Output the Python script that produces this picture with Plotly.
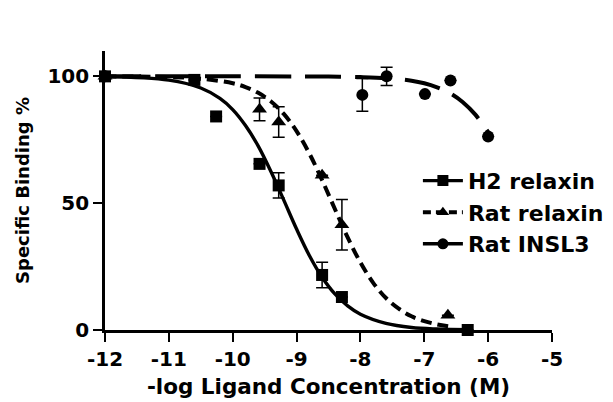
import plotly.graph_objects as go

# ---- data ----
h2_x = [-12, -10.6, -10.26, -9.58, -9.28, -8.6, -8.29, -6.32]
h2_y = [100, 98.6, 84.2, 65.5, 57.0, 21.7, 13.0, 0.0]
h2_err = [None, None, None, None, 5.0, 5.0, None, None]

rr_x = [-12, -9.58, -9.28, -8.6, -8.29, -6.63]
rr_y = [100, 87.0, 82.0, 61.0, 41.5, 5.8]
rr_err = [None, 4.5, 6.0, None, 10.0, None]

insl3_x = [-12, -7.97, -7.59, -6.99, -6.59, -6.0]
insl3_y = [100, 92.7, 100.0, 93.0, 98.4, 76.3]
insl3_err = [None, 6.5, 3.6, None, None, None]

# fitted curves
h2_fit_x = [-12, -11, -10.5, -10.2, -10, -9.8, -9.6, -9.4, -9.2, -9.0, -8.8, -8.6,
            -8.4, -8.2, -8.0, -7.6, -7.2, -6.8, -6.3]
h2_fit_y = [99.9, 98.5, 95.4, 91.3, 86.9, 80.6, 72.5, 62.4, 51.2, 39.8, 29.4, 20.8,
            14.2, 9.5, 6.2, 2.6, 1.0, 0.4, 0.1]

rr_fit_x = [-12, -11, -10.5, -10, -9.8, -9.6, -9.4, -9.2, -9.0, -8.8, -8.6, -8.4,
            -8.2, -8.0, -7.8, -7.6, -7.4, -7.2, -7.0, -6.8, -6.6]
rr_fit_y = [100, 99.7, 99.1, 97.3, 95.8, 93.5, 90.1, 85.2, 78.4, 69.6, 59.1, 47.7,
            36.5, 26.6, 18.6, 12.6, 8.4, 5.4, 3.5, 2.2, 1.4]

insl3_fit_x = [-12, -11, -10, -9, -8.5, -8, -7.6, -7.2, -7.0, -6.8, -6.6, -6.4, -6.2, -6.0]
insl3_fit_y = [100, 100, 100, 99.97, 99.9, 99.7, 99.3, 98.3, 97.3, 95.7, 93.4, 89.9, 84.9, 78.0]

x_ticks = [-12, -11, -10, -9, -8, -7, -6, -5]
x_ticktext = ["-12", "-11", "-10", "-9", "-8", "-7", "-6", "-5"]
y_ticks = [0, 50, 100]
y_ticktext = ["0", "50", "100"]

names = ["H2 relaxin", "Rat relaxin", "Rat INSL3"]

FONT = "DejaVu Sans, Liberation Sans, Arial, sans-serif"
BLACK = "#000000"

fig = go.Figure()

# fitted curves (no legend)
fig.add_trace(go.Scatter(x=h2_fit_x, y=h2_fit_y, mode="lines", line_shape="spline",
                         line=dict(color=BLACK, width=3.4), showlegend=False,
                         hoverinfo="skip"))
fig.add_trace(go.Scatter(x=rr_fit_x, y=rr_fit_y, mode="lines", line_shape="spline",
                         line=dict(color=BLACK, width=4, dash="11px,6px"),
                         showlegend=False, hoverinfo="skip"))
fig.add_trace(go.Scatter(x=insl3_fit_x, y=insl3_fit_y, mode="lines", line_shape="spline",
                         line=dict(color=BLACK, width=4, dash="36px,14px"),
                         showlegend=False, hoverinfo="skip"))


def err(vals):
    return dict(type="data", array=vals, symmetric=True, color=BLACK,
                thickness=1.5, width=6, visible=True)


# data points
fig.add_trace(go.Scatter(x=h2_x, y=h2_y, mode="markers", name=names[0], showlegend=False,
                         marker=dict(symbol="square", size=12, color=BLACK),
                         error_y=err(h2_err), cliponaxis=False))
fig.add_trace(go.Scatter(x=rr_x, y=rr_y, mode="markers", name=names[1], showlegend=False,
                         marker=dict(symbol="triangle-up", size=13, color=BLACK),
                         error_y=err(rr_err), cliponaxis=False))
fig.add_trace(go.Scatter(x=insl3_x, y=insl3_y, mode="markers", name=names[2], showlegend=False,
                         marker=dict(symbol="circle", size=12, color=BLACK),
                         error_y=err(insl3_err), cliponaxis=False))

# legend entries: line + marker
fig.add_trace(go.Scatter(x=[None], y=[None], mode="lines+markers", name=names[0],
                         line=dict(color=BLACK, width=3.4),
                         marker=dict(symbol="square", size=11, color=BLACK)))
fig.add_trace(go.Scatter(x=[None], y=[None], mode="lines+markers", name=names[1],
                         line=dict(color=BLACK, width=4, dash="8px,5px"),
                         marker=dict(symbol="triangle-up", size=11, color=BLACK)))
fig.add_trace(go.Scatter(x=[None], y=[None], mode="lines+markers", name=names[2],
                         line=dict(color=BLACK, width=3.4),
                         marker=dict(symbol="circle", size=11, color=BLACK)))

axis_common = dict(showline=True, linewidth=2.6, linecolor=BLACK, mirror=False,
                   ticks="outside", ticklen=9, tickwidth=2.2, tickcolor=BLACK,
                   showgrid=False, zeroline=False,
                   tickfont=dict(family=FONT, size=20, color=BLACK, weight="bold"))

fig.update_layout(
    width=613, height=402, autosize=False,
    margin=dict(l=97, r=55, t=43, b=80),
    paper_bgcolor="white", plot_bgcolor="white",
    font=dict(family=FONT, color=BLACK),
    xaxis=dict(range=[-12, -5], tickvals=x_ticks, ticktext=x_ticktext,
               title=dict(text="-log Ligand Concentration (M)",
                          font=dict(family=FONT, size=21.5, color=BLACK, weight="bold"),
                          standoff=10),
               **axis_common),
    yaxis=dict(range=[0, 110], tickvals=y_ticks, ticktext=y_ticktext,
               title=dict(text="Specific Binding %",
                          font=dict(family=FONT, size=18, color=BLACK, weight="bold"),
                          standoff=14),
               **axis_common),
    legend=dict(x=0.70, y=0.61, xanchor="left", yanchor="top",
                bgcolor="rgba(0,0,0,0)", borderwidth=0, itemwidth=40,
                font=dict(family=FONT, size=22, color=BLACK, weight="bold"),
                tracegroupgap=0, itemsizing="trace"),
    showlegend=True,
)

fig.write_html("out.html")
